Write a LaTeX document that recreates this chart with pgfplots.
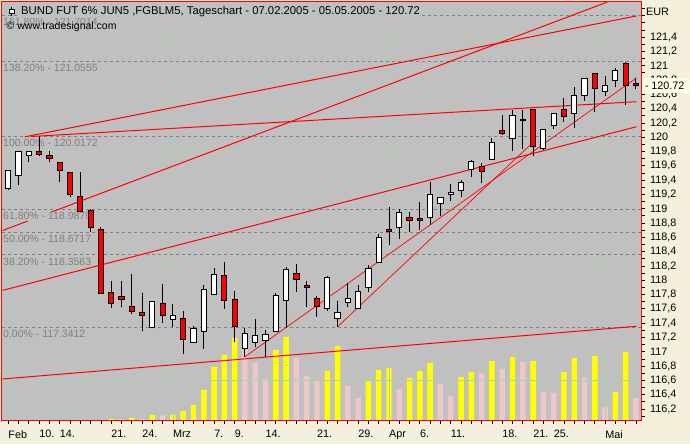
\documentclass[border=0pt]{standalone}
\usepackage{fontspec}
\setmainfont{Liberation Sans}
\usepackage{pgfplots}
\usepackage{pgfplotstable}
\pgfplotsset{compat=1.18}

\definecolor{cream}{RGB}{245,240,220}
\definecolor{chartbg}{RGB}{192,192,192}
\definecolor{fibgray}{RGB}{128,128,128}
\definecolor{gridgreen}{RGB}{176,206,176}
\definecolor{volup}{RGB}{255,255,0}
\definecolor{voldn}{RGB}{238,200,200}
\definecolor{pricebox}{RGB}{255,255,232}
\newcommand\lab{\fontsize{10.5}{12}\selectfont}
\def\yu{71.5}
\pgfdeclareplotmark{void}{}

% daily OHLC, i = trading day (0 = 07.02.2005)
\pgfplotstableread{
i o h l c
0 119.280 119.528 119.262 119.528
1 119.468 119.803 119.332 119.803
2 119.747 119.803 119.647 119.803
3 119.803 120.017 119.742 119.761
4 119.751 119.803 119.649 119.705
5 119.649 119.649 119.378 119.537
6 119.510 119.510 119.160 119.206
7 119.174 119.514 118.968 118.968
8 118.978 118.992 118.670 118.740
9 118.707 118.740 117.817 117.817
10 117.831 117.989 117.607 117.677
11 117.779 117.989 117.630 117.733
12 117.635 118.087 117.524 117.560
13 117.542 117.817 117.294 117.510
14 117.342 117.705 117.328 117.705
15 117.668 117.943 117.398 117.510
16 117.453 117.663 117.350 117.510
17 117.467 117.570 116.973 117.174
18 117.132 117.360 117.132 117.328
19 117.286 117.933 117.034 117.877
20 117.803 118.171 117.803 118.083
21 118.069 118.259 117.601 117.719
22 117.733 117.849 117.132 117.350
23 117.048 117.336 116.930 117.258
24 117.132 117.458 117.066 117.230
25 117.160 117.304 116.930 117.248
26 117.286 117.826 117.286 117.789
27 117.710 118.185 117.336 118.153
28 118.097 118.227 117.840 118.013
29 117.929 117.989 117.630 117.901
30 117.751 117.784 117.490 117.635
31 117.607 118.055 117.570 118.041
32 117.462 117.714 117.350 117.552
33 117.686 117.966 117.630 117.747
34 117.602 117.933 117.602 117.845
35 117.901 118.213 117.840 118.162
36 118.245 118.647 118.245 118.600
37 118.712 119.028 118.493 118.675
38 118.740 118.996 118.577 118.950
39 118.884 118.954 118.679 118.838
40 118.870 119.098 118.703 118.838
41 118.880 119.378 118.772 119.202
42 119.076 119.160 118.898 119.160
43 119.196 119.346 119.112 119.234
44 119.262 119.402 119.168 119.370
45 119.551 119.682 119.440 119.654
46 119.588 119.635 119.364 119.523
47 119.695 119.993 119.682 119.929
48 120.097 120.311 120.031 120.049
49 119.985 120.381 119.812 120.307
50 120.245 120.381 119.831 120.240
51 120.391 120.391 119.737 119.877
52 119.845 120.111 119.821 120.111
53 120.167 120.345 120.115 120.335
54 120.391 120.545 120.217 120.293
55 120.335 120.707 120.133 120.577
56 120.586 120.824 120.511 120.824
57 120.894 120.894 120.357 120.684
58 120.642 120.856 120.581 120.726
59 120.796 120.968 120.698 120.936
60 121.034 121.052 120.451 120.726
61 120.758 120.824 120.670 120.720
}\ohlc

% volume (relative units), days with rising volume
\pgfplotstableread{
i v
10 1
12 2
14 5
16 5
17 9
18 15
19 30
20 53
21 65
22 82
26 70
27 83
31 49
32 74
35 39
36 50
37 52
39 42
40 49
41 57
44 43
45 48
47 59
49 63
51 59
54 48
55 62
57 64
59 28
60 68
}\volupT

% days with falling volume
\pgfplotstableread{
i v
11 0.5
13 1
15 4.5
23 72
24 57
25 41
28 62
29 44
30 39
33 34
34 22
38 31
42 36
43 24
46 47
48 51
50 58
52 28
53 27
56 42
58 13
61 22
}\voldnT

\begin{document}
\begin{tikzpicture}[x=1pt,y=1pt]
\useasboundingbox (0,0) rectangle (690,444);
\fill[cream] (0,0) rectangle (690,444);

% ---- volume panel (drawn first, behind prices)
\begin{axis}[
  at={(2pt,24pt)}, anchor=south west, scale only axis,
  width=639pt, height=418pt,
  xmin=-0.612, xmax=61.49, ymin=0, ymax=418,
  axis background/.style={fill=chartbg},
  axis line style={draw=none}, xtick=\empty, ytick=\empty,
  ybar, bar width=0.53,
]
\addplot[fill=volup, draw=none, bar shift=0pt] table[x=i,y=v]{\volupT};
\addplot[fill=voldn, draw=none, bar shift=0pt] table[x=i,y=v]{\voldnT};
\end{axis}

% ---- price panel
\begin{axis}[
  at={(2pt,24pt)}, anchor=south west, scale only axis,
  width=639pt, height=418pt,
  xmin=-0.612, xmax=61.49, ymin=116.0455, ymax=121.8915,
  clip=false,
  axis line style={red, line width=1pt},
  tick align=outside,
  xtick pos=left, ytick pos=right,
  xticklabel pos=left, yticklabel pos=right,
  xtick={0,3,5,10,13,16,20,22,25,30,34,37,40,43,48,51,53,58},
  xticklabels={Feb,10.,14.,21.,24.,Mrz,7.,9.,14.,21.,29.,Apr,6.,11.,18.,21.,25.,Mai},
  minor xtick={0,...,61},
  ytick={116.2,116.4,116.6,116.8,117,117.2,117.4,117.6,117.8,118,118.2,118.4,118.6,118.8,119,119.2,119.4,119.6,119.8,120,120.2,120.4,120.6,120.8,121,121.2,121.4},
  minor ytick={116.1,116.3,116.5,116.7,116.9,117.1,117.3,117.5,117.7,117.9,118.1,118.3,118.5,118.7,118.9,119.1,119.3,119.5,119.7,119.9,120.1,120.3,120.5,120.7,120.9,121.1,121.3,121.5,121.6,121.7,121.8},
  major tick length=4pt, minor tick length=4pt,
  tick style={black, line width=0.8pt},
  tick label style={font=\fontsize{10.8}{12}\selectfont},
  xticklabel style={anchor=north west, inner sep=0pt, yshift=-6pt},
  yticklabel style={anchor=west, inner sep=0pt, xshift=5pt,
    /pgf/number format/fixed, /pgf/number format/precision=1,
    /pgf/number format/use comma, /pgf/number format/assume math mode=true},
]
% faint grid
\addplot[gridgreen, line width=0.6pt] coordinates {(16,116.0455) (16,121.8915)};
\addplot[gridgreen, line width=0.6pt] coordinates {(37,116.0455) (37,121.8915)};
\addplot[gridgreen, line width=0.6pt] coordinates {(58,116.0455) (58,121.8915)};
\addplot[gridgreen, line width=0.6pt] coordinates {(-0.612,116.6) (61.49,116.6)};
\addplot[gridgreen, line width=0.6pt] coordinates {(-0.612,118.2) (61.49,118.2)};
\addplot[gridgreen, line width=0.6pt] coordinates {(-0.612,119.8) (61.49,119.8)};
\addplot[gridgreen, line width=0.6pt] coordinates {(-0.612,121.4) (61.49,121.4)};

% Fibonacci levels
\addplot[fibgray, line width=0.8pt, dash pattern=on 3pt off 3pt] coordinates {(-0.612,121.7014) (61.49,121.7014)};
\addplot[fibgray, line width=0.8pt, dash pattern=on 3pt off 3pt] coordinates {(-0.612,121.0555) (61.49,121.0555)};
\addplot[fibgray, line width=0.8pt, dash pattern=on 3pt off 3pt] coordinates {(-0.612,120.0172) (61.49,120.0172)};
\addplot[fibgray, line width=0.8pt, dash pattern=on 3pt off 3pt] coordinates {(-0.612,118.9879) (61.49,118.9879)};
\addplot[fibgray, line width=0.8pt, dash pattern=on 3pt off 3pt] coordinates {(-0.612,118.6717) (61.49,118.6717)};
\addplot[fibgray, line width=0.8pt, dash pattern=on 3pt off 3pt] coordinates {(-0.612,118.3563) (61.49,118.3563)};
\addplot[fibgray, line width=0.8pt, dash pattern=on 3pt off 3pt] coordinates {(-0.612,117.3412) (61.49,117.3412)};

% trend lines
\addplot[red, line width=1pt] coordinates {(-0.544,117.859) (61.05,120.147)};
\addplot[red, line width=1pt] coordinates {(-0.544,116.619) (61.05,117.356)};
\addplot[red, line width=1pt] coordinates {(1.6,120.005) (61.05,121.696)};
\addplot[red, line width=1pt] coordinates {(2.2,120.010) (61.05,120.497)};
\addplot[red, line width=1pt] coordinates {(-0.544,118.696) (58.2,121.89)};
\addplot[red, line width=0.7pt] coordinates {(23,116.93) (61.05,120.83)};
\addplot[red, line width=0.7pt] coordinates {(32,117.35) (51.0,119.93)};

% candlesticks
\addplot[scatter, only marks, mark=void,
  visualization depends on={\thisrow{h}-\thisrow{o}\as\dh},
  visualization depends on={\thisrow{l}-\thisrow{o}\as\dl},
  visualization depends on={\thisrow{c}-\thisrow{o}\as\dc},
  scatter/@pre marker code/.code={%
    \pgfmathsetmacro\hy{\dh*\yu}%
    \pgfmathsetmacro\ly{\dl*\yu}%
    \pgfmathsetmacro\cy{\dc*\yu}%
    \pgfmathtruncatemacro\isdn{\dc<0}%
    \draw[black, line width=1pt] (0pt,\ly pt) -- (0pt,\hy pt);
    \ifnum\isdn=1 \def\bodycol{red}\else\def\bodycol{white}\fi
    \filldraw[draw=black, fill=\bodycol, line width=1pt] (-2.6pt,0pt) rectangle (2.6pt,\cy pt);
  },
  scatter/@post marker code/.code={},
] table[x=i, y=o] {\ohlc};

% level labels
\node[anchor=north west, fill=chartbg, text=fibgray, inner sep=1pt, font=\lab, yshift=-1.7pt] at (axis cs:-0.612,121.7014) {161.80\% - 121.7014};
\node[anchor=north west, fill=chartbg, text=fibgray, inner sep=1pt, font=\lab, yshift=-1.7pt] at (axis cs:-0.612,121.0555) {138.20\% - 121.0555};
\node[anchor=north west, fill=chartbg, text=fibgray, inner sep=1pt, font=\lab, yshift=-1.7pt] at (axis cs:-0.612,120.0172) {100.00\% - 120.0172};
\node[anchor=north west, fill=chartbg, text=fibgray, inner sep=1pt, font=\lab, yshift=-1.7pt] at (axis cs:-0.612,118.9879) {61.80\% - 118.9879};
\node[anchor=north west, fill=chartbg, text=fibgray, inner sep=1pt, font=\lab, yshift=-1.7pt] at (axis cs:-0.612,118.6717) {50.00\% - 118.6717};
\node[anchor=north west, fill=chartbg, text=fibgray, inner sep=1pt, font=\lab, yshift=-1.7pt] at (axis cs:-0.612,118.3563) {38.20\% - 118.3563};
\node[anchor=north west, fill=chartbg, text=fibgray, inner sep=1pt, font=\lab, yshift=-1.7pt] at (axis cs:-0.612,117.3412) {0.00\% - 117.3412};
\coordinate (lastpx) at (axis cs:61.49,120.72);
\end{axis}

% title, watermark, currency, last price
\node[anchor=base west, fill=chartbg, inner sep=1pt, font=\fontsize{11.3}{12}\selectfont] at (20pt,429pt) {BUND FUT 6\% JUN5 ,FGBLM5, Tageschart - 07.02.2005 - 05.05.2005 - 120.72};
\draw[black, line width=0.8pt] (11.7,437.3) -- (11.7,428);
\filldraw[draw=black, fill=white, line width=0.8pt] (9.4,430.3) rectangle (14,435);
\node[anchor=base west, inner sep=0pt, font=\lab] at (6.5pt,414pt) {© www.tradesignal.com};
\node[anchor=base west, inner sep=0pt, font=\fontsize{10.8}{12}\selectfont] at (646pt,428pt) {EUR};
\node[anchor=west, fill=pricebox, inner xsep=3pt, inner ysep=0pt, minimum height=15pt, text width=41pt, font=\fontsize{10.8}{12}\selectfont] at ([xshift=1pt]lastpx) {-\hspace{2.5pt}120.72};
\end{tikzpicture}
\end{document}
